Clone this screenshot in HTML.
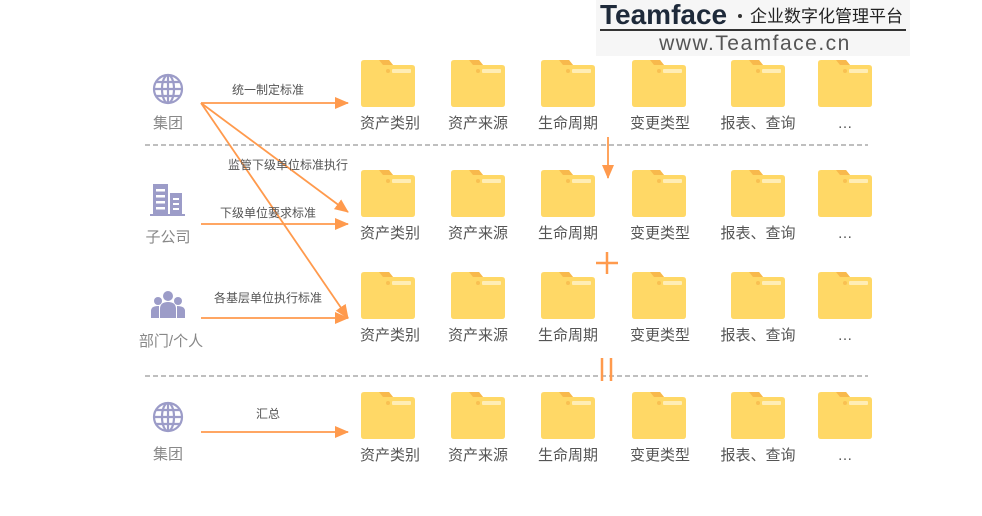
<!DOCTYPE html>
<html><head><meta charset="utf-8"><style>
body{margin:0;background:#fff;}
svg{display:block;font-family:"Liberation Sans","Noto Sans CJK SC",sans-serif;}
</style></head><body>
<svg width="982" height="516" viewBox="0 0 982 516" xmlns="http://www.w3.org/2000/svg">
<defs>
<g id="f">
<path d="M0,3 Q0,0 3,0 H28 L32,5 H51 Q54,5 54,8 V44 Q54,47 51,47 H3 Q0,47 0,44 Z" fill="#FFD866"/>
<path d="M18,0 H28 L32,5 H22 Z" fill="#F8B94C"/>
<circle cx="27" cy="11" r="2" fill="#F9C052"/>
<rect x="31" y="9" width="19" height="4" rx="1" fill="#FFEDB5"/>
</g>
<marker id="ah" markerWidth="14" markerHeight="14" refX="13" refY="7" orient="auto" markerUnits="userSpaceOnUse"><path d="M0,1 L14,7 L0,13 Z" fill="#FF9A4D"/></marker>
<g id="globe" fill="none" stroke="#9C9CC8" stroke-width="2.2">
<circle r="14"/><ellipse rx="6" ry="14"/><line x1="-14" x2="14"/><line x1="-12" y1="-7" x2="12" y2="-7"/><line x1="-12" y1="7" x2="12" y2="7"/><line y1="-14" y2="14"/>
</g>
</defs>
<rect x="596" y="0" width="314" height="56" fill="#f6f6f6"/>
<text x="600" y="24" font-size="28" font-weight="bold" fill="#1e2a3a">Teamface</text>
<circle cx="740" cy="16" r="2" fill="#333"/>
<text x="750" y="22" font-size="17" fill="#222">企业数字化管理平台</text>
<line x1="600" y1="30" x2="906" y2="30" stroke="#333" stroke-width="2"/>
<text x="755" y="50" font-size="21" fill="#555" text-anchor="middle" letter-spacing="1.5">www.Teamface.cn</text>

<g stroke="#aaa" stroke-width="1.5" stroke-dasharray="5,3"><line x1="145" y1="145" x2="868" y2="145"/><line x1="145" y1="376" x2="868" y2="376"/></g>

<g font-size="15" fill="#555" text-anchor="middle">
<g transform="translate(0,60)"><use href="#f" x="361"/><use href="#f" x="451"/><use href="#f" x="541"/><use href="#f" x="632"/><use href="#f" x="731"/><use href="#f" x="818"/></g>
<g transform="translate(0,170)"><use href="#f" x="361"/><use href="#f" x="451"/><use href="#f" x="541"/><use href="#f" x="632"/><use href="#f" x="731"/><use href="#f" x="818"/></g>
<g transform="translate(0,272)"><use href="#f" x="361"/><use href="#f" x="451"/><use href="#f" x="541"/><use href="#f" x="632"/><use href="#f" x="731"/><use href="#f" x="818"/></g>
<g transform="translate(0,392)"><use href="#f" x="361"/><use href="#f" x="451"/><use href="#f" x="541"/><use href="#f" x="632"/><use href="#f" x="731"/><use href="#f" x="818"/></g>
<g><text x="390" y="128">资产类别</text><text x="478" y="128">资产来源</text><text x="568" y="128">生命周期</text><text x="660" y="128">变更类型</text><text x="758" y="128">报表、查询</text><text x="845" y="128">…</text></g>
<g><text x="390" y="238">资产类别</text><text x="478" y="238">资产来源</text><text x="568" y="238">生命周期</text><text x="660" y="238">变更类型</text><text x="758" y="238">报表、查询</text><text x="845" y="238">…</text></g>
<g><text x="390" y="340">资产类别</text><text x="478" y="340">资产来源</text><text x="568" y="340">生命周期</text><text x="660" y="340">变更类型</text><text x="758" y="340">报表、查询</text><text x="845" y="340">…</text></g>
<g><text x="390" y="460">资产类别</text><text x="478" y="460">资产来源</text><text x="568" y="460">生命周期</text><text x="660" y="460">变更类型</text><text x="758" y="460">报表、查询</text><text x="845" y="460">…</text></g>
<g fill="#888"><text x="168" y="128">集团</text><text x="168" y="242">子公司</text><text x="171" y="346">部门/个人</text><text x="168" y="459">集团</text></g>
</g>

<use href="#globe" x="168" y="89"/>
<use href="#globe" x="168" y="417"/>
<g fill="#9C9CC8">
<rect x="153" y="184" width="15" height="30"/><rect x="170" y="193" width="12" height="21"/><rect x="150" y="214" width="35" height="2"/>
<g fill="#fff"><rect x="156" y="189" width="9" height="2.5"/><rect x="156" y="195" width="9" height="2.5"/><rect x="156" y="201" width="9" height="2.5"/><rect x="156" y="207" width="9" height="2.5"/><rect x="173" y="198" width="6" height="2"/><rect x="173" y="203" width="6" height="2"/><rect x="173" y="208" width="6" height="2"/></g>
<circle cx="168" cy="296" r="5"/><circle cx="158" cy="301" r="4"/><circle cx="178" cy="301" r="4"/>
<path d="M160,318 V309 Q160,302 168,302 Q176,302 176,309 V318 Z"/>
<path d="M151,318 V311 Q151,306 158,306 L159,306 V318 Z"/>
<path d="M177,318 V306 Q185,306 185,311 V318 Z"/>
</g>

<g stroke="#FF9A4D" stroke-width="1.8" fill="none" marker-end="url(#ah)">
<line x1="201" y1="103" x2="348" y2="103"/>
<line x1="201" y1="103" x2="348" y2="212"/>
<line x1="201" y1="103" x2="348" y2="318"/>
<line x1="201" y1="224" x2="348" y2="224"/>
<line x1="201" y1="318" x2="348" y2="318"/>
<line x1="201" y1="432" x2="348" y2="432"/>
<line x1="608" y1="137" x2="608" y2="178"/>
</g>
<g stroke="#FF9A4D" stroke-width="2.5"><line x1="596" y1="263" x2="618" y2="263"/><line x1="607" y1="252" x2="607" y2="274"/><line x1="602" y1="358" x2="602" y2="381"/><line x1="611" y1="358" x2="611" y2="381"/></g>

<g font-size="12" fill="#555" text-anchor="middle">
<text x="268" y="94">统一制定标准</text>
<text x="288" y="169">监管下级单位标准执行</text>
<text x="268" y="217">下级单位要求标准</text>
<text x="268" y="302">各基层单位执行标准</text>
<text x="268" y="418">汇总</text>
</g>
</svg>
</body></html>
